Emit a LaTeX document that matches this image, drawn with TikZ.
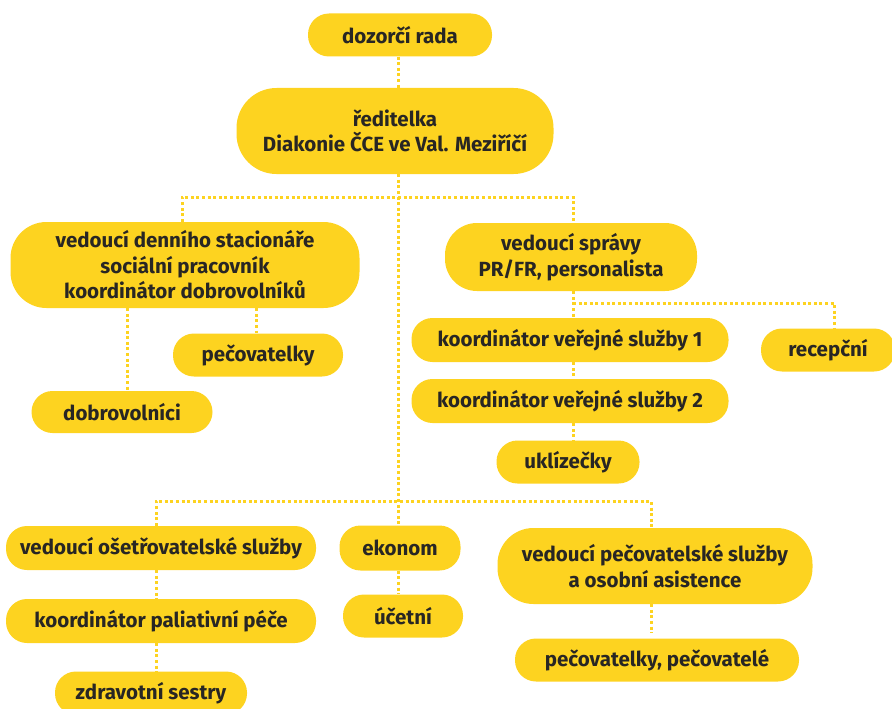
\documentclass[tikz,border=0pt]{standalone}
\usepackage{fontspec}
\setmainfont{Fira Sans}
\definecolor{orgyellow}{RGB}{253,211,32}
\definecolor{orgtext}{RGB}{40,38,36}
\tikzset{
  box/.style={fill=orgyellow, text=orgtext, rounded corners=21pt, align=center,
    inner sep=0pt, font=\fontsize{20.5}{25.5}\selectfont\bfseries},
  link/.style={draw=orgyellow, line width=3pt, dash pattern=on 3pt off 2.6pt}
}
\begin{document}
\begin{tikzpicture}[x=1pt, y=-1pt]
    \useasboundingbox (0,0) rectangle (892,709);

    \node[box, minimum width=184pt, minimum height=43pt](rada) at (400,35){dozorčí rada};
    \node[box, minimum width=317pt, minimum height=86pt, rounded corners=40pt](reditel) at (395,131){ředitelka\\Diakonie ČCE ve Val. Meziříčí};

    \node[box, minimum width=349pt, minimum height=86pt, rounded corners=36pt](stac) at (185,265){vedoucí denního stacionáře\\sociální pracovník\\koordinátor dobrovolníků};
    \node[box, minimum width=170pt, minimum height=43pt](pecA) at (258,355){pečovatelky};
    \node[box, minimum width=181pt, minimum height=42pt](dobr) at (122,412){dobrovolníci};

    \node[box, minimum width=252pt, minimum height=68pt, rounded corners=32pt](sprava) at (571,257){vedoucí správy\\PR/FR, personalista};
    \node[box, minimum width=317pt, minimum height=44pt](kvsA) at (570,340){koordinátor veřejné služby 1};
    \node[box, minimum width=317pt, minimum height=44pt](kvsB) at (570,401){koordinátor veřejné služby 2};
    \node[box, minimum width=143pt, minimum height=43pt](ukl) at (568,462){uklízečky};
    \node[box, minimum width=134pt, minimum height=43pt](recep) at (828,350){recepční};

    \node[box, minimum width=310pt, minimum height=44pt](osetr) at (161,548){vedoucí ošetřovatelské služby};
    \node[box, minimum width=310pt, minimum height=44pt](palia) at (161,621){koordinátor paliativní péče};
    \node[box, minimum width=192pt, minimum height=43pt](zdrav) at (151,693){zdravotní sestry};
    \node[box, minimum width=121pt, minimum height=45pt](ekon) at (400,548){ekonom};
    \node[box, minimum width=120pt, minimum height=43pt](ucet) at (403,616){účetní};
    \node[box, minimum width=315pt, minimum height=76pt, rounded corners=36pt](pecsl) at (655,566){vedoucí pečovatelské služby\\a osobní asistence};
    \node[box, minimum width=284pt, minimum height=43pt](pecB) at (657,660){pečovatelky, pečovatelé};

    \coordinate (jtop) at (398,197);
    \coordinate (jbot) at (398,501);
    \coordinate (jl) at (156,501);
    \coordinate (jr) at (651,501);
    \coordinate (jspr) at (573,303);

    \draw[link] (rada.south -| jtop) -- (reditel.north -| jtop);
    \draw[link] (reditel.south -| jtop) -- (jtop |- ekon.north);
    \draw[link] (stac.north -| 182,0) |- (jtop) -| (sprava.north -| jspr);

    \draw[link] (stac.south -| 256,0) -- (pecA.north -| 256,0);
    \draw[link] (stac.south -| 127,0) -- (dobr.north -| 127,0);

    \draw[link] (sprava.south -| jspr) -- (kvsA.north -| jspr);
    \draw[link] (jspr) -| (recep.north -| 834,0);
    \draw[link] (kvsA.south -| jspr) -- (kvsB.north -| jspr);
    \draw[link] (kvsB.south -| jspr) -- (ukl.north -| jspr);

    \draw[link] (jl |- osetr.north) -- (jl) -- (jr) -- (jr |- pecsl.north);
    \draw[link] (jl |- osetr.south) -- (jl |- palia.north);
    \draw[link] (jl |- palia.south) -- (jl |- zdrav.north);
    \draw[link] (ekon.south -| jbot) -- (ucet.north -| jbot);
    \draw[link] (jr |- pecsl.south) -- (jr |- 0,633);
\end{tikzpicture}
\end{document}
